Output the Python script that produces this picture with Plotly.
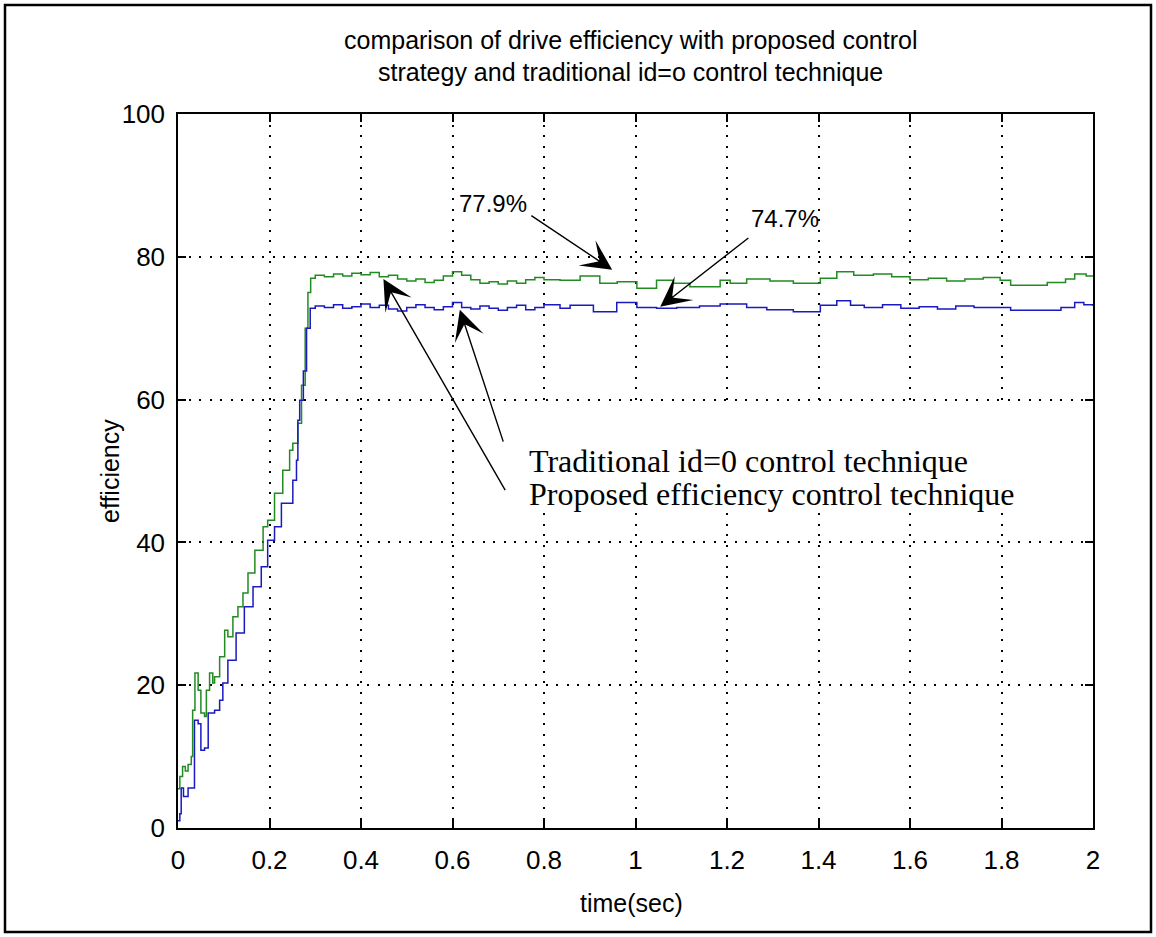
import plotly.graph_objects as go

# Proposed efficiency control technique (green trace)
time_proposed = [
    0.000, 0.004, 0.010, 0.016, 0.022, 0.029, 0.032, 0.037, 0.044, 0.050,
    0.058, 0.062, 0.069, 0.076, 0.080, 0.091, 0.102, 0.109, 0.120, 0.131,
    0.142, 0.153, 0.168, 0.186, 0.196, 0.211, 0.229, 0.244, 0.251, 0.262,
    0.270, 0.278, 0.284, 0.290,
    0.30, 0.32, 0.34, 0.36, 0.38, 0.40, 0.42, 0.44, 0.46, 0.48,
    0.50, 0.52, 0.54, 0.56, 0.58, 0.60, 0.62, 0.64, 0.66, 0.68,
    0.70, 0.72, 0.74, 0.76, 0.78, 0.80, 0.835, 0.879, 0.922, 0.96,
    1.003, 1.046, 1.083, 1.119, 1.185, 1.207, 1.243, 1.294, 1.345, 1.404,
    1.44, 1.477, 1.52, 1.56, 1.60, 1.64, 1.68, 1.72, 1.76, 1.797,
    1.82, 1.87, 1.90, 1.94, 1.96, 1.985, 2.0,
]
eff_proposed = [
    5.5, 7.2, 8.6, 8.0, 8.9, 10.0, 16.5, 21.7, 19.3, 16.1,
    15.6, 19.3, 21.7, 20.3, 21.2, 24.0, 27.7, 26.8, 29.6, 31.0,
    32.9, 35.7, 38.9, 42.2, 43.1, 46.9, 50.1, 52.9, 53.9, 56.7,
    62.0, 70.0, 75.0, 77.0,
    77.4, 77.2, 77.6, 77.3, 77.7, 77.5, 77.8, 77.2, 77.4, 76.9,
    76.6, 76.9, 76.4, 76.7, 77.3, 77.9, 77.4, 76.8, 76.3, 76.5,
    76.2, 76.6, 76.3, 76.8, 77.1, 76.8, 76.7, 77.3, 76.3, 76.5,
    75.6, 76.7, 76.3, 75.8, 76.7, 76.3, 76.9, 76.6, 76.3, 77.0,
    77.9, 77.4, 77.6, 77.2, 76.8, 77.0, 76.6, 76.9, 77.1, 76.7,
    76.0, 76.0, 76.4, 76.9, 77.6, 77.3, 77.3,
]

# Traditional id=0 control technique (blue trace)
time_traditional = [
    0.000, 0.004, 0.007, 0.012, 0.022, 0.036, 0.044, 0.050, 0.058, 0.066,
    0.080, 0.091, 0.098, 0.109, 0.127, 0.145, 0.164, 0.182, 0.196, 0.211,
    0.226, 0.251, 0.259, 0.262, 0.266, 0.274, 0.281, 0.289,
    0.30, 0.32, 0.34, 0.36, 0.38, 0.40, 0.42, 0.44, 0.46, 0.48,
    0.50, 0.52, 0.54, 0.56, 0.58, 0.60, 0.62, 0.64, 0.66, 0.68,
    0.70, 0.72, 0.74, 0.76, 0.78, 0.80, 0.835, 0.857, 0.908, 0.959,
    1.003, 1.046, 1.09, 1.14, 1.185, 1.243, 1.287, 1.345, 1.404, 1.44,
    1.47, 1.50, 1.54, 1.58, 1.62, 1.66, 1.70, 1.74, 1.797, 1.82,
    1.89, 1.93, 1.96, 1.98, 2.0,
]
eff_traditional = [
    1.0, 2.0, 5.6, 4.4, 5.6, 15.1, 14.6, 10.9, 11.2, 16.1,
    16.5, 17.9, 20.3, 23.5, 27.3, 31.0, 33.8, 36.6, 40.3, 42.2,
    45.5, 48.7, 51.5, 57.1, 59.9, 64.0, 70.0, 72.8,
    73.1, 72.9, 73.3, 72.8, 73.0, 73.4, 72.9, 73.2, 72.7, 72.4,
    72.9, 73.3, 72.9, 72.6, 73.0, 73.6, 72.9, 72.7, 73.1, 72.8,
    72.5, 72.9, 73.2, 72.6, 72.9, 73.3, 72.8, 73.2, 72.3, 73.6,
    72.9, 72.8, 72.9, 73.1, 73.4, 72.9, 72.6, 72.3, 73.2, 73.85,
    73.2, 72.9, 73.3, 72.8, 73.0, 72.7, 73.1, 72.9, 72.9, 72.5,
    72.5, 72.9, 73.6, 73.3, 73.1,
]

x_ticks = [0, 0.2, 0.4, 0.6, 0.8, 1, 1.2, 1.4, 1.6, 1.8, 2]
x_tick_text = ["0", "0.2", "0.4", "0.6", "0.8", "1", "1.2", "1.4", "1.6", "1.8", "2"]
y_ticks = [0, 20, 40, 60, 80, 100]

title_lines = [
    "comparison of drive efficiency with proposed control",
    "strategy and traditional id=o control technique",
]
legend_lines = [
    "Traditional id=0 control technique",
    "Proposed efficiency control technique",
]

SANS = "Liberation Sans, Arial, sans-serif"
SERIF = "Liberation Serif, Times New Roman, serif"

# plot-area pixel geometry used to place the free-floating text
PLOT_LEFT, PLOT_WIDTH = 178, 915
PLOT_BOTTOM, PLOT_HEIGHT = 828, 714


def px_x(px):
    return (px - PLOT_LEFT) / PLOT_WIDTH


def px_y(py):
    return (PLOT_BOTTOM - py) / PLOT_HEIGHT


fig = go.Figure()
fig.add_trace(go.Scatter(
    x=time_proposed, y=eff_proposed, mode="lines", line_shape="hv",
    line=dict(color="#228b22", width=1.5), showlegend=False,
))
fig.add_trace(go.Scatter(
    x=time_traditional, y=eff_traditional, mode="lines", line_shape="hv",
    line=dict(color="#1a1ac0", width=1.5), showlegend=False,
))

axis_common = dict(
    showline=True, linecolor="black", linewidth=1.5, mirror="ticks",
    ticks="inside", ticklen=8, tickcolor="black", tickwidth=1.5,
    showgrid=True, gridcolor="black", gridwidth=1.5, griddash="2px,8.5px",
    zeroline=False, tickfont=dict(family=SANS, size=26, color="black"),
)
fig.update_xaxes(range=[0, 2], tickvals=x_ticks, ticktext=x_tick_text,
                 ticklabelstandoff=8, **axis_common)
fig.update_yaxes(range=[0, 100], tickvals=y_ticks,
                 ticklabelstandoff=6, **axis_common)

shapes = [
    # white panel behind the method labels
    dict(type="rect", xref="paper", yref="y", x0=px_x(505), x1=0.998, y0=44.2, y1=59.6,
         fillcolor="white", line=dict(width=0), layer="above"),
    # outer figure frame
    dict(type="rect", xref="paper", yref="paper", x0=px_x(5), x1=px_x(1151),
         y0=px_y(932), y1=px_y(5), line=dict(color="black", width=2.5),
         fillcolor="rgba(0,0,0,0)"),
]


def label(text, x, y, size, family=SANS, **kw):
    return dict(text=text, x=x, y=y, showarrow=False, xanchor=kw.pop("xanchor", "center"),
                yanchor="middle", font=dict(family=family, size=size, color="black"), **kw)


annotations = [
    label(title_lines[0], px_x(630), px_y(40), 25, xref="paper", yref="paper"),
    label(title_lines[1], px_x(630), px_y(72), 25, xref="paper", yref="paper"),
    label("time(sec)", px_x(631), px_y(903), 25, xref="paper", yref="paper"),
    label("efficiency", px_x(110), px_y(471), 25, xref="paper", yref="paper", textangle=-90),
    label(legend_lines[0], 0.763, 51.4, 32, family=SERIF, xref="x", yref="y", xanchor="left"),
    label(legend_lines[1], 0.763, 46.8, 32, family=SERIF, xref="x", yref="y", xanchor="left"),
    label("77.9%", 0.689, 87.5, 24, xref="x", yref="y"),
    label("74.7%", 1.327, 85.4, 24, xref="x", yref="y"),
]

arrow_style = dict(showarrow=True, arrowhead=3, arrowsize=3.6, arrowwidth=1.4,
                   arrowcolor="black", text="", xref="x", yref="y",
                   axref="x", ayref="y")
arrows = [
    (0.949, 78.2, 0.769, 85.9),
    (1.054, 73.0, 1.250, 82.8),
    (0.616, 72.6, 0.712, 53.9),
    (0.449, 76.9, 0.717, 47.1),
]
for hx, hy, tx, ty in arrows:
    annotations.append(dict(x=hx, y=hy, ax=tx, ay=ty, **arrow_style))

fig.update_layout(
    width=1156, height=937,
    margin=dict(l=178, r=63, t=114, b=109),
    paper_bgcolor="white", plot_bgcolor="white",
    shapes=shapes, annotations=annotations, showlegend=False,
)

fig.write_html("out.html")
